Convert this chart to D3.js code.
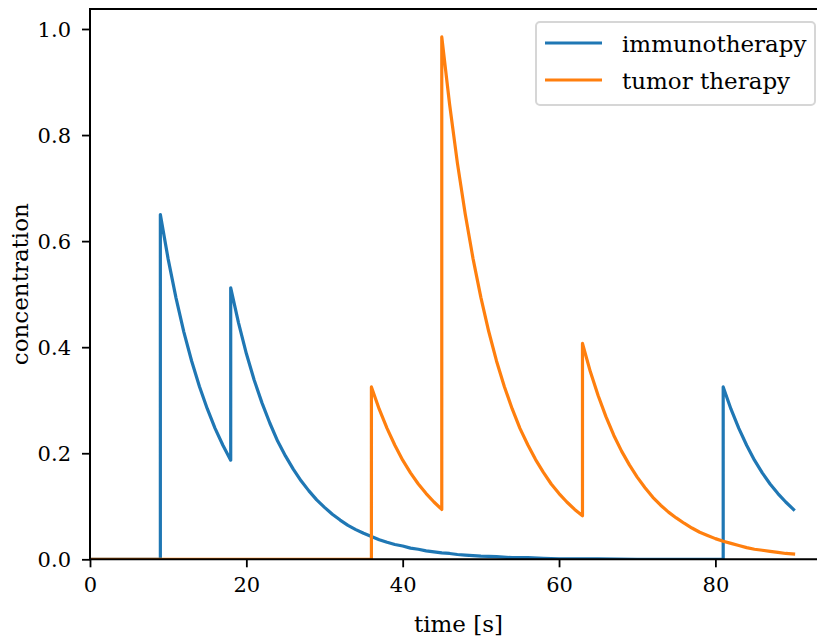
<!DOCTYPE html>
<html lang="en">
<head>
  <meta charset="UTF-8">
  <title>Therapy concentration</title>
  <style>
    body { margin: 0; background: #fff; }
    svg  { display: block; }
    svg text { font-family: "DejaVu Serif", "Liberation Serif", "Times New Roman", serif; }
    .tick text { font-size: 21px; fill: #000; }
    .tick line { stroke: #000; stroke-width: 1.8px; }
    .spine { stroke: #000; stroke-width: 2px; fill: none; }
    .series { fill: none; stroke-width: 3.2px; stroke-linejoin: round; stroke-linecap: square; }
  </style>
</head>
<body>
  <svg id="chart" width="817" height="641"></svg>

  <script src="https://d3js.org/d3.v7.min.js"></script>
  <script>
    /* ---------- data: [time s, concentration] ---------- */
    const seriesNames = ['immunotherapy', 'tumor therapy'];
    const seriesColors = ['#1f77b4', '#ff7f0e'];

    const immunoPoints = [
      [0, 0], [9, 0], [9, 0.650], [10, 0.566], [11, 0.493], [12, 0.429], [13, 0.374],
      [14, 0.326], [15, 0.284], [16, 0.247], [17, 0.215], [18, 0.187],
      [18, 0.512], [19, 0.446], [20, 0.388], [21, 0.338], [22, 0.295], [23, 0.257],
      [24, 0.223], [25, 0.195], [26, 0.170], [27, 0.148], [28, 0.129], [29, 0.112],
      [30, 0.098], [31, 0.085], [32, 0.074], [33, 0.064], [34, 0.056], [35, 0.049],
      [36, 0.043], [37, 0.037], [38, 0.032], [39, 0.028], [40, 0.025], [41, 0.021],
      [42, 0.019], [43, 0.016], [44, 0.014], [45, 0.012], [46, 0.011], [47, 0.009],
      [48, 0.008], [49, 0.007], [50, 0.006], [52, 0.005], [54, 0.003], [56, 0.003],
      [58, 0.002], [60, 0.001], [65, 0.001], [70, 0], [81, 0],
      [81, 0.325], [82, 0.283], [83, 0.247], [84, 0.215], [85, 0.187], [86, 0.163],
      [87, 0.142], [88, 0.124], [89, 0.108], [90, 0.094]
    ];

    const tumorPoints = [
      [0, 0], [36, 0], [36, 0.325], [37, 0.283], [38, 0.247], [39, 0.215], [40, 0.187],
      [41, 0.163], [42, 0.142], [43, 0.124], [44, 0.108], [45, 0.094],
      [45, 0.985], [46, 0.858], [47, 0.747], [48, 0.651], [49, 0.567], [50, 0.494],
      [51, 0.430], [52, 0.374], [53, 0.326], [54, 0.284], [55, 0.247], [56, 0.216],
      [57, 0.188], [58, 0.164], [59, 0.142], [60, 0.124], [61, 0.108], [62, 0.094],
      [63, 0.082], [63, 0.407], [64, 0.354], [65, 0.309], [66, 0.269], [67, 0.234],
      [68, 0.204], [69, 0.178], [70, 0.155], [71, 0.135], [72, 0.117], [73, 0.102],
      [74, 0.089], [75, 0.078], [76, 0.068], [77, 0.059], [78, 0.051], [79, 0.045],
      [80, 0.039], [81, 0.034], [82, 0.030], [83, 0.026], [84, 0.022], [85, 0.019],
      [86, 0.017], [87, 0.015], [88, 0.013], [89, 0.011], [90, 0.010]
    ];

    const xTicks = [0, 20, 40, 60, 80];
    const yTicks = [0, 0.2, 0.4, 0.6, 0.8, 1.0];

    /* ---------- layout ---------- */
    const plot = { left: 90, right: 817, top: 9, bottom: 559.3 };

    const x = d3.scaleLinear().domain([0, 93]).range([plot.left, plot.right]);
    const y = d3.scaleLinear().domain([0, 1.0377]).range([plot.bottom, plot.top]);

    const svg = d3.select('#chart');

    svg.append('defs').append('clipPath').attr('id', 'clip')
       .append('rect')
       .attr('x', plot.left).attr('y', plot.top)
       .attr('width', plot.right - plot.left)
       .attr('height', plot.bottom - plot.top);

    /* ---------- lines ---------- */
    const line = d3.line()
                   .x(d => x(d[0]))
                   .y(d => y(d[1]));

    const lines = svg.append('g').attr('clip-path', 'url(#clip)');
    [immunoPoints, tumorPoints].forEach((pts, i) => {
      lines.append('path')
           .datum(pts)
           .attr('class', 'series')
           .attr('stroke', seriesColors[i])
           .attr('d', line);
    });

    /* ---------- axes ---------- */
    const xAxis = svg.append('g')
        .attr('transform', `translate(0,${plot.bottom})`)
        .call(d3.axisBottom(x).tickValues(xTicks).tickSize(8).tickPadding(10)
                .tickFormat(d3.format('d')));
    xAxis.select('.domain').remove();

    const yAxis = svg.append('g')
        .attr('transform', `translate(${plot.left},0)`)
        .call(d3.axisLeft(y).tickValues(yTicks).tickSize(8).tickPadding(11)
                .tickFormat(d3.format('.1f')));
    yAxis.select('.domain').remove();
    yAxis.selectAll('.tick text').attr('dy', '0.34em');

    [xAxis, yAxis].forEach(a => a.attr('font-family', null).attr('font-size', null));

    // spines (left, top, bottom)
    svg.append('path')
       .attr('class', 'spine')
       .attr('d', `M${plot.right + 2},${plot.top}H${plot.left}V${plot.bottom}H${plot.right + 2}`);

    /* ---------- axis labels ---------- */
    svg.append('text')
       .attr('x', (plot.left + 827) / 2)
       .attr('y', 632)
       .attr('text-anchor', 'middle')
       .attr('font-size', 23)
       .text('time [s]');

    svg.append('text')
       .attr('transform', `translate(28,${(plot.top + plot.bottom) / 2}) rotate(-90)`)
       .attr('text-anchor', 'middle')
       .attr('font-size', 23)
       .text('concentration');

    /* ---------- legend ---------- */
    const legend = svg.append('g');
    legend.append('rect')
          .attr('x', 536).attr('y', 22)
          .attr('width', 279).attr('height', 83)
          .attr('rx', 4)
          .attr('fill', 'rgba(255,255,255,0.8)')
          .attr('stroke', '#d6d6d6')
          .attr('stroke-width', 2);

    seriesNames.forEach((name, i) => {
      const cy = 43 + i * 37;
      legend.append('line')
            .attr('x1', 545).attr('x2', 602)
            .attr('y1', cy).attr('y2', cy)
            .attr('stroke', seriesColors[i])
            .attr('stroke-width', 3.2);
      legend.append('text')
            .attr('x', 622).attr('y', cy + 9)
            .attr('font-size', 23)
            .text(name);
    });
  </script>
</body>
</html>
